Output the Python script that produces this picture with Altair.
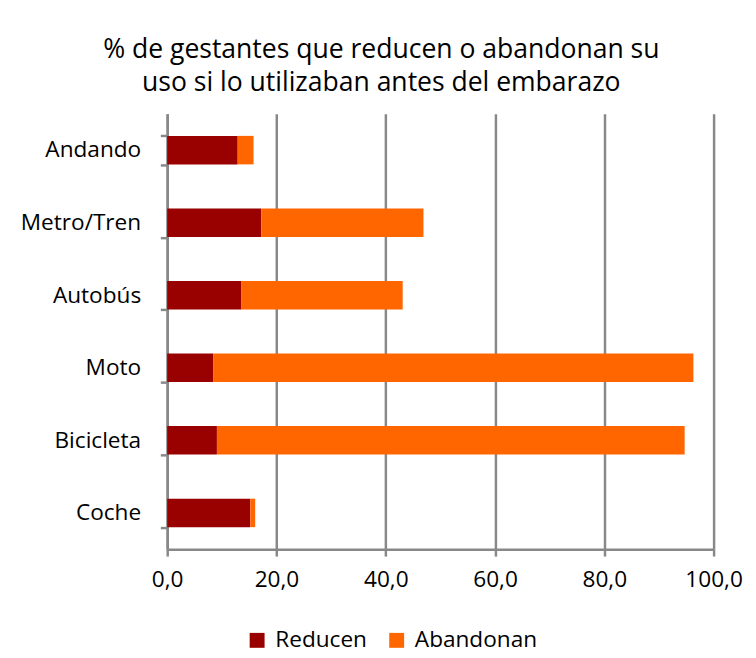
import altair as alt
import pandas as pd

categorias = ["Andando", "Metro/Tren", "Autobús", "Moto", "Bicicleta", "Coche"]
reducen = [12.9, 17.2, 13.6, 8.4, 9.1, 15.2]
abandonan = [2.9, 29.7, 29.5, 87.9, 85.6, 0.9]
series = ["Reducen", "Abandonan"]
colores = ["#990000", "#FF6600"]

rows = []
for c, r, a in zip(categorias, reducen, abandonan):
    rows.append({"cat": c, "serie": "Reducen", "valor": r, "orden": 0})
    rows.append({"cat": c, "serie": "Abandonan", "valor": a, "orden": 1})
df = pd.DataFrame(rows)

font = "Open Sans"
fs = 23

chart = alt.Chart(df).mark_bar(size=29).encode(
    y=alt.Y("cat:N", sort=categorias, title=None,
            scale=alt.Scale(paddingInner=0.6, paddingOuter=0.3),
            axis=alt.Axis(labelFontSize=fs, labelColor="black", labelFont=font,
                          domainColor="#888888", domainWidth=2.5,
                          tickColor="#888888", tickWidth=2.5, tickSize=7,
                          tickBand="extent", labelPadding=20, grid=False)),
    x=alt.X("valor:Q", stack="zero", title=None,
            scale=alt.Scale(domain=[0, 100], nice=False),
            axis=alt.Axis(values=[0, 20, 40, 60, 80, 100],
                          labelExpr="replace(format(datum.value, '.1f'), '.', ',')",
                          labelFontSize=fs, labelColor="black", labelFont=font,
                          labelPadding=13, domainColor="#888888", domainWidth=2.5,
                          tickColor="#888888", tickWidth=2.5, tickSize=7,
                          gridColor="#888888", gridWidth=2.5, labelFlush=False)),
    color=alt.Color("serie:N", sort=series, title=None,
                    scale=alt.Scale(domain=series, range=colores),
                    legend=alt.Legend(orient="none", legendX=80, legendY=524,
                                      direction="horizontal",
                                      symbolType="square", symbolSize=230,
                                      symbolStrokeWidth=0,
                                      labelFontSize=fs, labelFont=font,
                                      labelColor="black", columnPadding=18,
                                      labelOffset=7)),
    order=alt.Order("orden:Q"),
).properties(
    width=556, height=443,
    padding={"left": 12, "top": 23, "right": 5, "bottom": 0},
    title=alt.TitleParams(
        ["% de gestantes que reducen o abandonan su",
         "uso si lo utilizaban antes del embarazo"],
        fontSize=27, fontWeight="normal", font=font, color="black",
        lineHeight=34, offset=6, anchor="middle", frame="bounds"),
).configure_view(stroke=None)

chart.save("out.html", embed_options={"renderer": "svg", "actions": False})
